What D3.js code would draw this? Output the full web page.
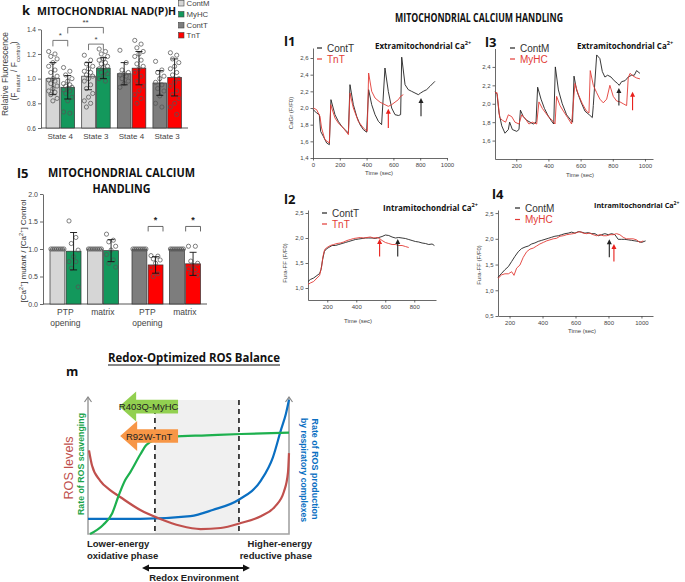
<!DOCTYPE html>
<html><head><meta charset="utf-8">
<script src="https://cdn.jsdelivr.net/npm/d3@7"></script>
<style>body{margin:0;background:#fff}svg{display:block}</style>
</head><body><svg id="c" width="685" height="582"></svg>
<script>
// ---------------- DATA ----------------
// Panel k : mitochondrial NAD(P)H
const nadGroups = ["State 4","State 3","State 4","State 3"];
const nadSeries = [["ContM","MyHC"],["ContM","MyHC"],["ContT","TnT"],["ContT","TnT"]];
const nadMeans = [[1.00,0.93],[1.02,1.085],[1.04,1.085],[0.965,1.01]];
const nadSD = [[0.13,0.095],[0.11,0.085],[0.09,0.135],[0.10,0.15]];
const nadDots = [
 [[1.22,1.20,1.18,1.16,1.13,1.10,1.07,1.05,1.02,1.00,0.99,0.98,0.96,0.94,0.92,0.90,0.89,0.87,0.84,0.82],
  [1.09,1.06,1.03,1.00,0.98,0.96,0.95,0.94,0.93,0.92,0.91,0.90,0.88,0.85,0.82,0.73,0.72]],
 [[1.19,1.15,1.12,1.10,1.08,1.06,1.05,1.03,1.02,1.00,0.98,0.95,0.92,0.88,0.85,0.82,0.80,0.77],
  [1.24,1.22,1.20,1.18,1.16,1.15,1.13,1.12,1.10,1.09,1.08,1.06,1.05,1.04,1.02,1.00,0.98]],
 [[1.23,1.13,1.07,1.05,1.04,1.03,1.02,1.00,0.98,0.96,0.93],
  [1.31,1.28,1.25,1.22,1.20,1.18,1.15,1.12,1.10,1.08,1.05,1.02,0.98,0.94,0.90,0.87,0.84,0.80]],
 [[1.14,1.07,1.05,1.02,1.00,0.97,0.95,0.92,0.90,0.86,0.80,0.77],
  [1.21,1.19,1.16,1.13,1.10,1.08,1.05,1.03,1.00,0.97,0.94,0.90,0.87,0.84,0.80,0.77,0.71]]
];
const nadSig = [ {a:[0,0], b:[0,1], y:1.31, label:"*"}, {a:[0,1], b:[1,1], y:1.415, label:"**"}, {a:[1,0], b:[1,1], y:1.28, label:"*"} ];
const nadTicks = [0.6,0.8,1.0,1.2,1.4];
const legendItems = ["ContM","MyHC","ContT","TnT"];

// Panel l5 : mitochondrial calcium handling
const caGroups = [["PTP","opening"],["matrix"],["PTP","opening"],["matrix"]];
const caSeries = nadSeries;
const caMeans = [[1.0,0.96],[1.0,0.97],[1.0,0.71],[1.0,0.73]];
const caSD = [[0,0.34],[0,0.20],[0,0.15],[0,0.21]];
const caDots = [
 [[1,1,1,1,1,1,1,1],[1.51,1.21,1.10,0.98,0.86,0.77,0.77,0.65,0.31]],
 [[1,1,1,1,1,1,1,1],[1.27,1.16,1.13,1.05,0.98,0.90,0.80,0.74,0.67]],
 [[1,1,1,1,1,1,1,1],[0.88,0.87,0.82,0.80,0.74,0.66,0.55,0.50]],
 [[1,1,1,1,1,1,1,1],[1.05,1.05,0.78,0.74,0.70,0.64,0.62,0.55,0.52]]
];
const caSig = [false,false,true,true];
const caTicks = [0,0.5,1.0,1.5,2.0];

// Panel l1 : extramitochondrial Ca2+ (ContT vs TnT) [time s, F/F0]
const l1ContT = [[2,1.98],[27,1.94],[47,1.92],[57,1.72],[77,1.66],[102,1.58],[122,1.56],[134,2.10],[164,1.92],[189,1.84],[214,1.78],[239,1.74],[264,1.70],[276,2.28],[301,2.04],[326,1.90],[351,1.80],[376,1.74],[400,1.71],[415,2.22],[438,2.04],[463,1.92],[488,1.84],[512,1.80],[537,2.48],[562,2.20],[587,2.00],[612,1.92],[637,1.91],[654,1.92],[662,2.61],[687,2.28],[711,2.22],[736,2.20],[761,2.18],[786,2.16],[803,2.18],[823,2.20],[848,2.22],[873,2.26],[910,2.32]];
const l1TnT = [[2,2.00],[27,1.98],[52,1.90],[64,1.76],[89,1.62],[122,1.58],[132,2.04],[164,1.88],[189,1.82],[226,1.76],[264,1.68],[276,2.18],[301,2.00],[338,1.84],[376,1.76],[405,1.72],[415,2.42],[438,2.20],[463,2.12],[500,2.07],[537,2.04],[562,2.02],[587,2.04],[612,2.07],[637,2.10],[654,2.14],[674,2.16]];
const l1Arrows = [["TnT",562,1.76,1.99],["ContT",806,1.90,2.12]];

// Panel l3 : extramitochondrial Ca2+ (ContM vs MyHC)
const l3ContM = [[68,2.13],[81,2.10],[93,1.90],[110,1.76],[130,1.68],[151,1.72],[159,1.80],[176,1.72],[203,1.70],[217,1.72],[226,1.93],[244,1.86],[265,1.82],[286,1.80],[306,1.78],[323,1.80],[333,2.18],[354,2.05],[375,1.95],[395,1.88],[416,1.82],[433,1.78],[443,2.40],[462,2.15],[486,2.00],[513,1.88],[540,1.82],[550,1.80],[559,2.30],[575,2.15],[602,2.02],[627,1.92],[654,1.88],[673,1.85],[679,1.98],[700,2.53],[720,2.49],[735,2.35],[751,2.29],[768,2.31],[789,2.29],[809,2.25],[830,2.22],[840,2.20],[855,2.24],[876,2.25],[896,2.29],[917,2.31],[934,2.31],[948,2.36],[969,2.33]];
const l3MyHC = [[68,2.12],[81,2.12],[97,1.85],[114,1.82],[134,1.80],[151,1.88],[172,1.86],[192,1.80],[217,1.78],[234,1.88],[255,1.84],[279,1.78],[300,1.80],[327,1.78],[341,2.02],[362,1.95],[383,1.90],[404,1.85],[424,1.82],[441,1.78],[451,2.08],[472,1.98],[493,1.92],[519,1.85],[544,1.78],[565,2.22],[586,2.10],[611,2.00],[637,1.92],[652,1.90],[660,2.36],[679,2.20],[700,2.12],[720,2.05],[741,2.01],[762,2.05],[782,2.20],[803,2.08],[824,2.03],[845,2.02],[865,2.00],[886,1.98],[896,2.28],[907,2.33],[927,2.30],[948,2.28],[969,2.27]];
const l3Arrows = [["ContM",838,1.98,2.17],["MyHC",923,1.93,2.13]];

// Panel l2 : intramitochondrial Ca2+ (ContT vs TnT)
const l2ContT = [[67,1.13],[83,1.17],[106,1.20],[129,1.25],[147,1.29],[157,1.37],[168,1.57],[180,1.73],[193,1.78],[210,1.81],[233,1.85],[256,1.85],[279,1.87],[302,1.89],[325,1.91],[348,1.93],[371,1.95],[394,1.97],[417,1.98],[440,1.99],[463,2.00],[486,2.00],[509,2.00],[532,1.99],[555,2.01],[578,2.03],[601,2.06],[624,2.05],[647,2.02],[670,2.00],[693,2.01],[716,2.00],[739,1.99],[762,1.97],[785,1.95],[808,1.93],[831,1.92],[854,1.90],[877,1.89],[900,1.87],[923,1.88],[939,1.85]];
const l2TnT = [[67,1.07],[83,1.10],[106,1.13],[129,1.20],[147,1.25],[161,1.43],[170,1.63],[182,1.77],[198,1.81],[221,1.85],[244,1.87],[267,1.89],[290,1.90],[313,1.92],[336,1.95],[359,1.97],[382,1.99],[405,2.00],[428,2.01],[451,2.00],[474,2.01],[497,2.02],[520,2.00],[543,2.01],[561,1.99],[578,1.95],[601,1.91],[624,1.89],[647,1.87],[670,1.87],[693,1.85],[716,1.85],[739,1.83],[762,1.81]];
const l2Arrows = [["TnT",561,1.63,1.98],["ContT",686,1.63,1.98]];

// Panel l4 : intramitochondrial Ca2+ (ContM vs MyHC)
const l4ContM = [[130,1.25],[152,1.33],[172,1.40],[193,1.46],[213,1.56],[233,1.66],[253,1.75],[273,1.81],[294,1.84],[314,1.86],[334,1.90],[354,1.92],[374,1.95],[395,1.97],[415,1.99],[435,2.01],[455,2.03],[475,2.05],[496,2.06],[516,2.08],[536,2.10],[556,2.11],[576,2.13],[597,2.11],[617,2.14],[637,2.13],[657,2.11],[677,2.12],[698,2.10],[718,2.10],[738,2.06],[758,2.08],[778,2.10],[799,2.08],[819,2.10],[839,2.08],[859,1.99],[879,1.99],[899,1.99],[920,1.98],[940,1.97],[960,1.96],[980,1.95],[1001,1.93],[1025,1.96]];
const l4MyHC = [[130,1.23],[152,1.30],[172,1.32],[193,1.32],[213,1.36],[227,1.29],[243,1.43],[263,1.49],[283,1.64],[304,1.75],[324,1.80],[344,1.82],[364,1.86],[384,1.90],[405,1.93],[425,1.96],[445,1.98],[465,2.00],[485,2.01],[506,2.05],[526,2.06],[546,2.08],[566,2.09],[586,2.10],[607,2.12],[627,2.14],[647,2.11],[667,2.10],[687,2.11],[708,2.08],[728,2.06],[748,2.08],[768,2.06],[788,2.06],[809,2.08],[829,2.08],[849,2.10],[869,2.08],[889,2.03],[909,2.00],[930,2.00],[950,2.00],[970,1.98],[990,1.93],[1011,1.96]];
const l4Arrows = [["ContM",805,1.64,1.99],["MyHC",833,1.56,1.90]];

// Panel m : redox-optimized ROS balance (normalized redox axis 0..1, level 0..1)
const rosLevels = [[0.005,0.61],[0.02,0.50],[0.06,0.39],[0.11,0.32],[0.16,0.27],[0.26,0.175],[0.36,0.11],[0.46,0.06],[0.56,0.036],[0.66,0.044],[0.76,0.08],[0.86,0.13],[0.93,0.20],[0.975,0.31],[0.995,0.45],[1.0,0.59]];
const rosScavenging = [[0.01,0.0],[0.075,0.066],[0.12,0.15],[0.15,0.27],[0.184,0.39],[0.21,0.45],[0.26,0.58],[0.29,0.65],[0.34,0.69],[0.42,0.71],[0.59,0.72],[0.76,0.73],[1.0,0.74]];
const rosProduction = [[0.0,0.11],[0.26,0.11],[0.51,0.13],[0.62,0.175],[0.75,0.25],[0.86,0.39],[0.92,0.56],[0.96,0.76],[0.985,0.88],[1.0,0.98]];
const optimalZone = [0.333,0.751];
const mutationArrows = [["R403Q-MyHC",0.155,0.448,0.93],["R92W-TnT",0.16,0.448,0.715]];

// ---------------- DRAWING ----------------
const F = '"Liberation Sans", Arial, sans-serif';
const FB = '"Open Sans", "Liberation Sans", sans-serif';
const svg = d3.select("#c").attr("font-family", F);
const barColor = {ContM:"#d6d6d6", MyHC:"#13985c", ContT:"#7d7d7d", TnT:"#ff0000"};
const lineColor = {ContT:"#222", ContM:"#222", TnT:"#e23b36", MyHC:"#e23b36"};

function text(g, x, y, s, o = {}) {
  const t = g.append("text").attr("x", x).attr("y", y).text(s)
    .attr("font-size", o.size || 8).attr("fill", o.fill || "#222")
    .attr("text-anchor", o.anchor || "start").attr("font-weight", o.weight || "normal")
    .attr("font-family", o.family || F);
  if (o.len) t.attr("textLength", o.len).attr("lengthAdjust", "spacingAndGlyphs");
  if (o.rotate !== undefined) t.attr("transform", `rotate(${o.rotate},${x},${y})`);
  return t;
}
function rich(g, x, y, parts, o = {}) {
  const t = g.append("text").attr("x", x).attr("y", y)
    .attr("font-size", o.size || 8).attr("fill", o.fill || "#222")
    .attr("text-anchor", o.anchor || "start").attr("font-weight", o.weight || "normal")
    .attr("font-family", o.family || F);
  if (o.rotate !== undefined) t.attr("transform", `rotate(${o.rotate},${x},${y})`);
  parts.forEach(p => {
    const ts = t.append("tspan").text(p[0]);
    if (p[1] === "sup") ts.attr("baseline-shift", "super").attr("font-size", "70%");
    if (p[1] === "sub") ts.attr("baseline-shift", "sub").attr("font-size", "70%");
  });
  if (o.len) t.attr("textLength", o.len).attr("lengthAdjust", "spacingAndGlyphs");
  return t;
}
function styleAxis(a, size) {
  a.attr("font-family", F).attr("font-size", size);
  a.selectAll("path,line").attr("stroke", "#444").attr("stroke-width", 0.8);
  a.selectAll("text").attr("fill", "#444");
}
function jit(i, w) { return (((i * 3) % 5) - 2) * w / 6.5; }

// generic bar panel
function barPanel(p) {
  const g = svg.append("g");
  const y = d3.scaleLinear().domain(p.yd).range(p.yr);
  const xg = d3.scaleBand().domain(d3.range(p.groups.length)).range(p.xr).paddingInner(p.pi).paddingOuter(p.po);
  const xs = d3.scaleBand().domain([0,1]).range([0, xg.bandwidth()]).paddingInner(0.08);
  const gx = i => xg(i) + (i >= 2 ? p.shift : 0);
  const ax = g.append("g").attr("transform", `translate(${p.axisX},0)`)
    .call(d3.axisLeft(y).tickValues(p.ticks).tickFormat(d3.format(".1f")).tickSize(3).tickSizeOuter(0).tickPadding(2));
  styleAxis(ax, p.tickSize);
  g.append("line").attr("x1", p.axisX).attr("x2", p.axisEnd).attr("y1", y(p.yd[0])).attr("y2", y(p.yd[0])).attr("stroke", "#444").attr("stroke-width", 0.9);
  p.means.forEach((pair, gi) => pair.forEach((m, si) => {
    const x0 = gx(gi) + xs(si), w = xs.bandwidth(), cx = x0 + w / 2;
    g.append("rect").attr("x", x0).attr("y", y(m)).attr("width", w).attr("height", y(p.yd[0]) - y(m))
      .attr("fill", barColor[p.series[gi][si]]).attr("stroke", "#333").attr("stroke-width", 0.7);
    const dots = p.dots[gi][si];
    dots.forEach((v, i) => {
      const dx = p.rowDots && si === 0 ? (i + 0.5) * w / dots.length - w / 2 : jit(i, w);
      g.append("circle").attr("cx", cx + dx).attr("cy", y(v)).attr("r", 2.1)
        .attr("fill", "none").attr("stroke", "#555").attr("stroke-width", 0.75);
    });
    const sd = p.sd[gi][si];
    if (sd > 0) {
      const e = g.append("g").attr("stroke", "#111").attr("stroke-width", 0.9);
      e.append("line").attr("x1", cx).attr("x2", cx).attr("y1", y(m - sd)).attr("y2", y(m + sd));
      [m - sd, m + sd].forEach(v => e.append("line").attr("x1", cx - 3.5).attr("x2", cx + 3.5).attr("y1", y(v)).attr("y2", y(v)));
    }
  }));
  return {g, y, gx, xs};
}

// ----- Panel k -----
{
  const P = barPanel({groups: nadGroups, series: nadSeries, means: nadMeans, sd: nadSD, dots: nadDots,
    yd: [0.6, 1.4], yr: [128, 29.3], xr: [42.5, 185], pi: 0.2, po: 0.1, shift: 0, axisX: 41, axisEnd: 188, ticks: nadTicks, tickSize: 6.5});
  const {g, y, gx, xs} = P;
  nadGroups.forEach((s, i) => text(g, gx(i) + xs.bandwidth() + 0.5, 139, s, {size: 8, anchor: "middle", fill: "#444"}));
  nadSig.forEach(s => {
    const xa = gx(s.a[0]) + xs(s.a[1]) + xs.bandwidth() / 2, xb = gx(s.b[0]) + xs(s.b[1]) + xs.bandwidth() / 2;
    const yy = y(s.y);
    g.append("path").attr("d", `M${xa},${yy + 6}V${yy}H${xb}V${yy + 6}`).attr("fill", "none").attr("stroke", "#555").attr("stroke-width", 0.8);
    text(g, (xa + xb) / 2, yy - 2, s.label, {size: 8, anchor: "middle", fill: "#444"});
  });
  text(svg, 22, 15, "k", {size: 13, weight: "bold", fill: "#111", family: FB});
  text(svg, 37, 15, "MITOCHONDRIAL NAD(P)H", {size: 11, weight: "bold", fill: "#111", family: FB, len: 139});
  legendItems.forEach((k, i) => {
    const yy = [0.5, 11.5, 22.5, 32.5][i];
    svg.append("rect").attr("x", 178.5).attr("y", yy).attr("width", 5.5).attr("height", 5.5).attr("fill", barColor[k]).attr("stroke", "#444").attr("stroke-width", 0.6);
    text(svg, 186.5, yy + 5.3, k, {size: 7.8, fill: "#444"});
  });
  text(svg, 8, 74, "Relative Fluorescence", {size: 8.5, anchor: "middle", rotate: -90, fill: "#444"});
  rich(svg, 16.5, 71, [["(F"], ["mutant","sub"], [" / F"], ["control","sub"], [")"]], {size: 8.5, anchor: "middle", rotate: -90, fill: "#444"});
}

// ----- Panel l5 -----
{
  const P = barPanel({groups: caGroups, series: caSeries, means: caMeans, sd: caSD, dots: caDots, rowDots: true,
    yd: [0, 2], yr: [304, 194], xr: [44, 199.5], pi: 0.173, po: 0.16, shift: 7, axisX: 43, axisEnd: 207, ticks: caTicks, tickSize: 7});
  const {g, y, gx, xs} = P;
  caGroups.forEach((lines, i) => lines.forEach((s, j) =>
    text(g, gx(i) + xs.bandwidth() + 0.5, 315 + j * 10.5, s, {size: 8.5, anchor: "middle", fill: "#444"})));
  caSig.forEach((sig, gi) => {
    if (!sig) return;
    const xa = gx(gi) + xs(1), xb = xa + xs.bandwidth(), yy = y(1.41);
    g.append("path").attr("d", `M${xa},${yy + 5}V${yy}H${xb}V${yy + 5}`).attr("fill", "none").attr("stroke", "#444").attr("stroke-width", 0.8);
    text(g, (xa + xb) / 2, yy - 3, "*", {size: 9, anchor: "middle", fill: "#222", weight: "bold"});
  });
  text(svg, 17, 178, "l5", {size: 13, weight: "bold", fill: "#111", family: FB});
  text(svg, 121.5, 177, "MITOCHONDRIAL CALCIUM", {size: 12, weight: "bold", fill: "#111", family: FB, anchor: "middle", len: 147});
  text(svg, 121.5, 193, "HANDLING", {size: 12, weight: "bold", fill: "#111", family: FB, anchor: "middle", len: 58});
  rich(svg, 26, 251, [["[Ca"], ["2+","sup"], ["] mutant / [Ca"], ["2+","sup"], ["] Control"]], {size: 7.5, anchor: "middle", rotate: -90, fill: "#333", len: 103});
}

// ----- Trace panels -----
const cf = d => d3.format(".1f")(d).replace(".", ",");
function tracePanel(p) {
  const g = svg.append("g");
  const x = d3.scaleLinear().domain(p.xd).range(p.xr);
  const y = d3.scaleLinear().domain(p.yd).range(p.yr);
  const ay = g.append("g").attr("transform", `translate(${p.xr[0]},0)`)
    .call(d3.axisLeft(y).tickValues(p.yt).tickFormat(cf).tickSize(2.5).tickSizeOuter(0).tickPadding(2));
  styleAxis(ay, 6);
  const ax = g.append("g").attr("transform", `translate(0,${p.yr[0]})`)
    .call(d3.axisBottom(x).tickValues(p.xt).tickFormat(d3.format("d")).tickSize(2.5).tickSizeOuter(0).tickPadding(2));
  styleAxis(ax, 6);
  const line = d3.line().x(d => x(d[0])).y(d => y(d[1]));
  p.series.forEach(s => g.append("path").attr("d", line(s.data)).attr("fill", "none")
    .attr("stroke", lineColor[s.name]).attr("stroke-width", 0.9).attr("stroke-linejoin", "round"));
  p.arrows.forEach(a => {
    const xx = x(a[1]), y0 = y(a[2]), y1 = y(a[3]), c = a[0] === "TnT" || a[0] === "MyHC" ? "#e8201c" : "#222";
    g.append("line").attr("x1", xx).attr("x2", xx).attr("y1", y0).attr("y2", y1 + 4).attr("stroke", c).attr("stroke-width", 1.1);
    g.append("path").attr("d", `M${xx},${y1}L${xx - 2.5},${y1 + 5}L${xx + 2.5},${y1 + 5}Z`).attr("fill", c);
  });
  p.series.forEach((s, i) => {
    const ly = p.leg[1] + i * p.leg[2];
    g.append("line").attr("x1", p.leg[0]).attr("x2", p.leg[0] + 5).attr("y1", ly).attr("y2", ly).attr("stroke", lineColor[s.name]).attr("stroke-width", 1.2);
    text(g, p.leg[0] + 10, ly + 3.5, s.name, {size: 10, fill: lineColor[s.name] === "#222" ? "#333" : "#e23b36"});
  });
  rich(g, p.title[0], p.title[1], [[p.title[2]], ["2+", "sup"]], {size: p.title[3] || 8, weight: "bold", fill: "#111", family: FB});
  text(g, p.lab[0], p.lab[1], p.lab[2], {size: 13, weight: "bold", fill: "#111", family: FB});
  text(g, p.xl[0], p.xl[1], "Time (sec)", {size: 6, anchor: "middle", fill: "#444"});
  if (p.yl) text(g, p.yl[0], p.yl[1], p.yl[2], {size: 6, anchor: "middle", fill: "#444", rotate: -90});
}
tracePanel({xd: [0, 1000], xr: [313, 447], yd: [1.4, 2.72], yr: [158, 48],
  yt: [1.4,1.6,1.8,2.0,2.2,2.4,2.6], xt: [0,200,400,600,800,1000],
  series: [{name: "ContT", data: l1ContT}, {name: "TnT", data: l1TnT}], arrows: l1Arrows,
  leg: [317, 48, 11], title: [375, 49, "Extramitochondrial Ca"], lab: [284, 46, "l1"],
  xl: [379, 175], yl: [293, 113, "CaGr (F/F0)"]});
tracePanel({xd: [68, 1050], xr: [495, 653], yd: [1.4, 2.6], yr: [159, 48.5],
  yt: [1.6,1.8,2.0,2.2,2.4], xt: [200,400,600,800,1000],
  series: [{name: "ContM", data: l3ContM}, {name: "MyHC", data: l3MyHC}], arrows: l3Arrows,
  leg: [510, 48, 11], title: [577, 49, "Extramitochondrial Ca"], lab: [485, 47, "l3"],
  xl: [580, 177]});
tracePanel({xd: [67, 950], xr: [308, 436], yd: [0.76, 2.56], yr: [300, 210],
  yt: [1.0,1.5,2.0,2.5], xt: [200,400,600,800],
  series: [{name: "ContT", data: l2ContT}, {name: "TnT", data: l2TnT}], arrows: l2Arrows,
  leg: [322, 213, 11], title: [383, 211, "Intramitochondrial Ca"], lab: [284, 204, "l2"],
  xl: [358, 323], yl: [287, 263, "Fura-FF (F/F0)"]});
tracePanel({xd: [130, 1070], xr: [498, 653], yd: [0.5, 2.56], yr: [316, 210],
  yt: [0.5,1.0,1.5,2.0,2.5], xt: [200,400,600,800,1000],
  series: [{name: "ContM", data: l4ContM}, {name: "MyHC", data: l4MyHC}], arrows: l4Arrows,
  leg: [515, 208, 11.5], title: [594, 208, "Intramitochondrial Ca", 7.2], lab: [492, 199, "l4"],
  xl: [582, 333], yl: [481, 265, "Fura-FF (F/F0)"]});
text(svg, 479, 22, "MITOCHONDRIAL CALCIUM HANDLING", {size: 12, weight: "bold", fill: "#111", family: FB, anchor: "middle", len: 168});

// ----- Panel m -----
{
  const g = svg.append("g");
  const x = d3.scaleLinear().domain([0, 1]).range([88, 289]);
  const y = d3.scaleLinear().domain([0, 1]).range([534, 397]);
  g.append("rect").attr("x", x(optimalZone[0])).attr("y", y(0.978)).attr("width", x(optimalZone[1]) - x(optimalZone[0]))
    .attr("height", y(0) - y(0.978)).attr("fill", "#f0f0f0");
  optimalZone.forEach(v => g.append("line").attr("x1", x(v)).attr("x2", x(v)).attr("y1", y(0.978)).attr("y2", y(0))
    .attr("stroke", "#333").attr("stroke-width", 1.8).attr("stroke-dasharray", "5,4"));
  g.append("path").attr("d", `M${x(0)},${y(1)}V${y(0)}H${x(1)}V${y(1)}`).attr("fill", "none").attr("stroke", "#a3a3a3").attr("stroke-width", 1.6);
  [0, 1].forEach(v => g.append("path").attr("d", `M${x(v) - 3.5},${y(1) + 5}L${x(v)},${y(1)}L${x(v) + 3.5},${y(1) + 5}`)
    .attr("fill", "none").attr("stroke", "#888").attr("stroke-width", 1.2));
  const line = d3.line().x(d => x(d[0])).y(d => y(d[1])).curve(d3.curveMonotoneX);
  [[rosProduction, "#0a6fc2"], [rosLevels, "#c0504d"], [rosScavenging, "#1db04e"]].forEach(c =>
    g.append("path").attr("d", line(c[0])).attr("fill", "none").attr("stroke", c[1]).attr("stroke-width", 2.2));
  const arrowCol = {"R403Q-MyHC": "#92d050", "R92W-TnT": "#f79646"};
  mutationArrows.forEach(a => {
    const tip = x(a[1]), end = x(a[2]), cy = y(a[3]), hl = 17, hh = 15, bh = 6.8;
    g.append("path").attr("d", `M${tip},${cy}L${tip + hl},${cy - hh}V${cy - bh}H${end}V${cy + bh}H${tip + hl}V${cy + hh}Z`)
      .attr("fill", arrowCol[a[0]]);
    text(g, (tip + end) / 2, cy + 3.5, a[0], {size: 9.5, anchor: "middle", fill: "#222"});
  });
  text(g, 194, 362, "Redox-Optimized ROS Balance", {size: 12.5, weight: "bold", anchor: "middle", fill: "#111", family: FB, len: 172});
  g.append("line").attr("x1", 108).attr("x2", 280).attr("y1", 365).attr("y2", 365).attr("stroke", "#111").attr("stroke-width", 1);
  text(g, 66, 376, "m", {size: 12.5, weight: "bold", fill: "#111", family: FB});
  text(g, 73, 468, "ROS levels", {size: 13, anchor: "middle", fill: "#c0504d", rotate: -90, len: 63});
  text(g, 83.5, 464, "Rate of ROS scavenging", {size: 9, anchor: "middle", fill: "#1aa34a", weight: "bold", rotate: -90, len: 102});
  text(g, 312, 469, "Rate of ROS production", {size: 9.5, anchor: "middle", fill: "#0a6fc2", weight: "bold", rotate: 90, len: 101});
  text(g, 301, 470, "by respiratory complexes", {size: 9.5, anchor: "middle", fill: "#0a6fc2", weight: "bold", rotate: 90, len: 104});
  text(g, 87, 547, "Lower-energy", {size: 9.5, weight: "bold", fill: "#222"});
  text(g, 87, 559, "oxidative phase", {size: 9.5, weight: "bold", fill: "#222"});
  text(g, 312, 547, "Higher-energy", {size: 9.5, weight: "bold", fill: "#222", anchor: "end"});
  text(g, 312, 559, "reductive phase", {size: 9.5, weight: "bold", fill: "#222", anchor: "end"});
  g.append("line").attr("x1", 147).attr("x2", 245).attr("y1", 568).attr("y2", 568).attr("stroke", "#111").attr("stroke-width", 1.8);
  g.append("path").attr("d", "M142,568L149,564.5L149,571.5Z").attr("fill", "#111");
  g.append("path").attr("d", "M250,568L243,564.5L243,571.5Z").attr("fill", "#111");
  text(g, 194, 581, "Redox Environment", {size: 9.5, weight: "bold", anchor: "middle", fill: "#222"});
}
</script></body></html>
